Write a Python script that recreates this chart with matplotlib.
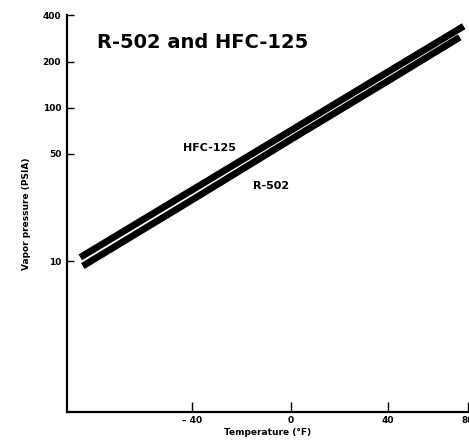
import numpy as np
import matplotlib
matplotlib.use("Agg")
import matplotlib.pyplot as plt

# ---- data ----
hfc_temps = [-85, -40, 0, 40, 78]
hfc_psia = [10.6, 29, 71, 172, 340]
r502_temps = [-84, -40, 0, 40, 76]
r502_psia = [9.3, 25, 62, 150, 288]

x_ticks = [-40, 0, 40, 80]
x_ticklabels = ["\u2013 40", "0", "40", "80"]
y_ticks = [10, 50, 100, 200, 400]
y_ticklabels = ["10", "50", "100", "200", "400"]

# non-uniform temperature axis of the original chart (scale definition)
scale_temps = [-90.5, -40, 0, 40, 80]
scale_pos = [0.0, 125.0, 224.0, 321.6, 401.0]

def fwd(x):
    return np.interp(x, scale_temps, scale_pos)

def inv(p):
    return np.interp(p, scale_pos, scale_temps)

plt.rcParams['font.family'] = ['DejaVu Sans']

fig = plt.figure(figsize=(4.69, 4.40), dpi=100)
ax = fig.add_axes([0.1422, 0.0636, 0.855, 0.9014])

ax.set_xscale('function', functions=(fwd, inv))
ax.set_yscale('log')

ax.plot(hfc_temps, hfc_psia, color='black', lw=4.9, solid_capstyle='butt')
ax.plot(r502_temps, r502_psia, color='black', lw=4.9, solid_capstyle='butt')

ax.set_xlim(-90.5, 80)
ax.set_ylim(1.04, 400)

ax.set_xticks(x_ticks)
ax.set_xticklabels(x_ticklabels, fontsize=6.5, fontweight='bold')
ax.set_yticks(y_ticks)
ax.set_yticklabels(y_ticklabels, fontsize=6.5, fontweight='bold')
ax.yaxis.set_minor_locator(matplotlib.ticker.NullLocator())
ax.xaxis.set_minor_locator(matplotlib.ticker.NullLocator())

ax.tick_params(axis='x', direction='in', length=7, width=1, pad=3)
ax.tick_params(axis='y', direction='in', length=5, width=1, pad=4)

for s in ['top', 'right']:
    ax.spines[s].set_visible(False)
for s in ['left', 'bottom']:
    ax.spines[s].set_linewidth(1.6)

ax.set_xlabel("Temperature (\u00b0F)", fontsize=6.5, fontweight='bold', labelpad=2)
ax.set_ylabel("Vapor pressure (PSIA)", fontsize=6.5, fontweight='bold', labelpad=8)

ax.text(0.075, 0.955, "R-502 and HFC-125", transform=ax.transAxes,
        fontsize=14, fontweight='bold', ha='left', va='top')
ax.text(-33, 55, "HFC-125", fontsize=8, fontweight='bold', ha='center', va='center')
ax.text(-8, 31, "R-502", fontsize=8, fontweight='bold', ha='center', va='center')

fig.savefig("out.png", dpi=100)
